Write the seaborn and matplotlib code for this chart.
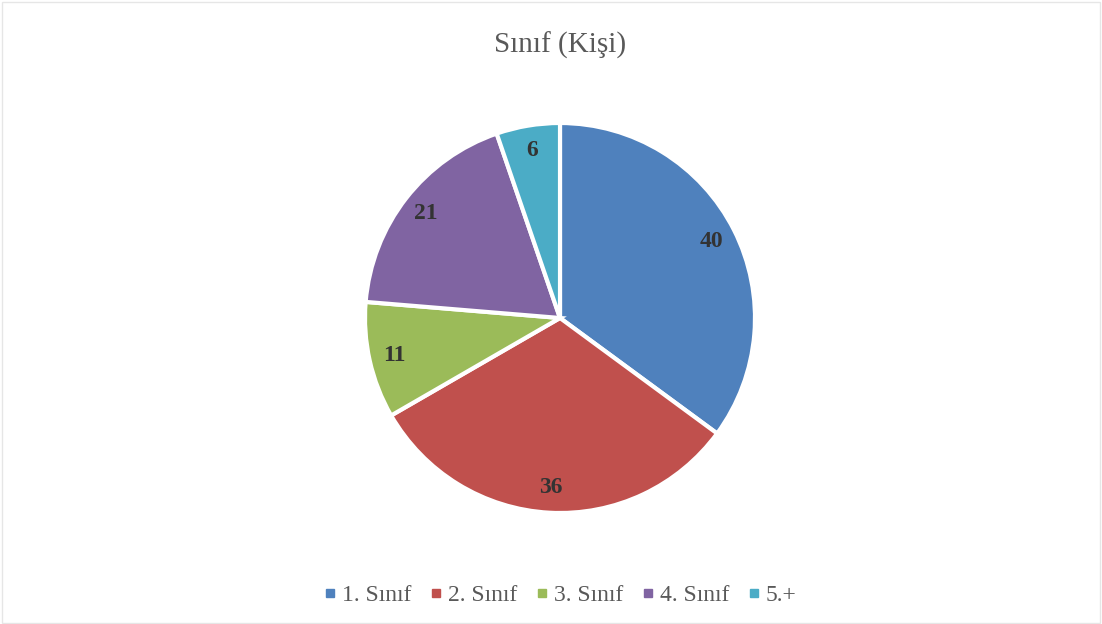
import matplotlib
matplotlib.use("Agg")
import matplotlib.pyplot as plt
from matplotlib.patches import Rectangle
from matplotlib.lines import Line2D
import seaborn as sns

sns.set_theme(style="white")
plt.rcParams["font.family"] = ["Liberation Serif", "DejaVu Serif"]

# Data
categories = ["1. Sınıf", "2. Sınıf", "3. Sınıf", "4. Sınıf", "5.+"]
counts = [40, 36, 11, 21, 6]
colors = sns.color_palette(["#4F81BD", "#C0504D", "#9BBB59", "#8064A2", "#4BACC6"])
title = "Sınıf (Kişi)"

W, H = 1102, 624
fig = plt.figure(figsize=(W / 100, H / 100), dpi=100)

# pie centre and radius in pixels
cx, cy, r = 560, 318, 195
pad = 1.05
ax = fig.add_axes([(cx - r * pad) / W, (H - cy - r * pad) / H, 2 * r * pad / W, 2 * r * pad / H])

wedges, texts, autotexts = ax.pie(
    counts,
    colors=colors,
    startangle=90,
    counterclock=False,
    autopct=lambda p: "{:.0f}".format(p * sum(counts) / 100),
    pctdistance=0.87,
    wedgeprops=dict(edgecolor="white", linewidth=3),
    textprops=dict(fontsize=17, fontweight="bold", color="#333333"),
)
ax.set_xlim(-pad, pad)
ax.set_ylim(-pad, pad)
ax.set_aspect("equal")

fig.text(cx / W, 1 - 45 / H, title, ha="center", va="center", fontsize=21, color="#595959")

# legend with small square markers
handles = [Line2D([0], [0], marker="s", linestyle="", markersize=6, markerfacecolor=c, markeredgecolor=c) for c in colors]
fig.legend(
    handles, categories, loc="center", bbox_to_anchor=(cx / W, 1 - 595 / H),
    ncol=5, frameon=False, fontsize=17, handletextpad=0.2, columnspacing=0.75,
    handlelength=0.6, labelcolor="#595959",
)

# light chart border
fig.patches.append(Rectangle((0.002, 0.002), 0.996, 0.995, transform=fig.transFigure,
                             fill=False, edgecolor="#E6E6E6", linewidth=1))

fig.savefig("out.png", dpi=100)
